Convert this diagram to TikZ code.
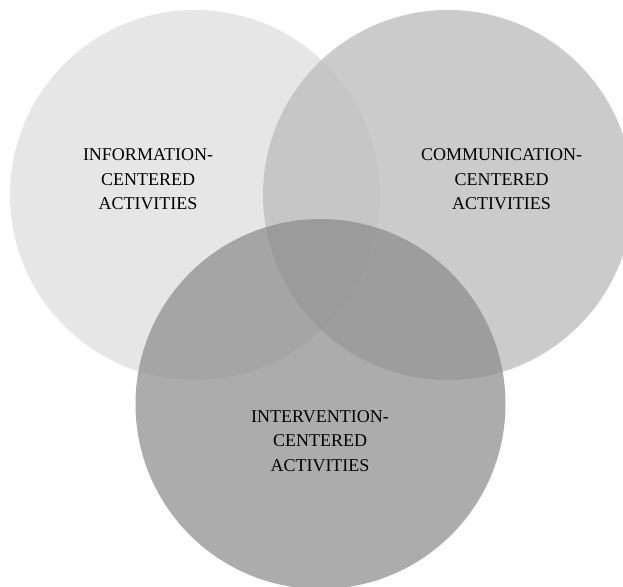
\documentclass[tikz,border=0pt]{standalone}
\usepackage{fontspec}
\setmainfont{Liberation Serif}
\begin{document}
\begin{tikzpicture}[x=1pt,y=-1pt,
  zone/.style={circle,inner sep=0pt,minimum size=370pt},
  caption/.style={align=center,inner sep=0pt,text=black,
    font=\fontsize{18pt}{24.5pt}\selectfont}]
  \definecolor{infofill}{gray}{0.902}
  \definecolor{commfill}{gray}{0.749}
  \definecolor{intvfill}{gray}{0.541}
  % page frame
  \fill[white] (0,0) rectangle (623,586);
  \useasboundingbox (0,0) rectangle (623,586);
  \clip (0,0) rectangle (623,586);
  % the three activity areas
  \node[zone,fill=infofill] (info) at (195,195) {};
  \node[zone,fill=commfill,fill opacity=0.8] (comm) at (448,195) {};
  \node[zone,fill=intvfill,fill opacity=0.7] (intv) at (320.5,404) {};
  % labels
  \node[caption] (infolabel) at (148,179.5) {INFORMATION-\\CENTERED\\ACTIVITIES};
  \node[caption] (commlabel) at (501.5,179.5) {COMMUNICATION-\\CENTERED\\ACTIVITIES};
  \node[caption] (intvlabel) at (320,441) {INTERVENTION-\\CENTERED\\ACTIVITIES};
\end{tikzpicture}
\end{document}
